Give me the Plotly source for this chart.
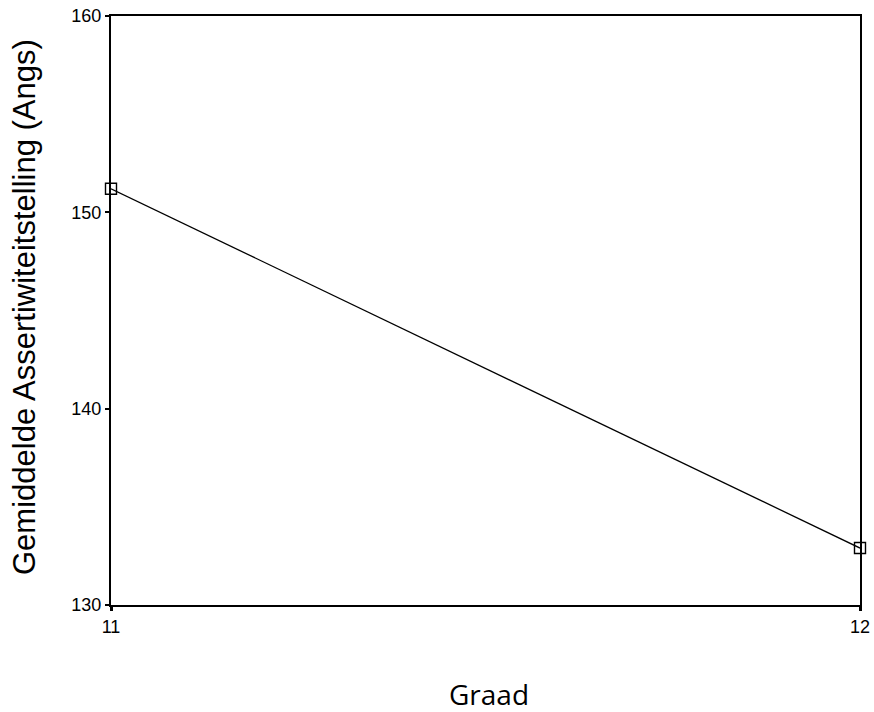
import plotly.graph_objects as go

grades = [11, 12]
mean_scores = [151.2, 132.9]
y_ticks = [130, 140, 150, 160]
x_ticks = [11, 12]

W, H = 874, 712
L, R, T, B = 111, 14, 16, 107
pw, ph = W - L - R, H - T - B

fig = go.Figure()
fig.add_trace(go.Scatter(
    x=grades, y=mean_scores, mode="lines+markers",
    line=dict(color="black", width=1.3),
    marker=dict(symbol="square-open", size=11, color="black", line=dict(width=1.4)),
    cliponaxis=False, showlegend=False, hoverinfo="skip",
))

fig.update_layout(
    width=W, height=H,
    margin=dict(l=L, r=R, t=T, b=B, autoexpand=False),
    paper_bgcolor="white", plot_bgcolor="white",
    font=dict(family="Liberation Sans, Arial", color="black"),
    xaxis=dict(
        range=[11, 12], tickvals=x_ticks, ticktext=[str(v) for v in x_ticks],
        showgrid=False, zeroline=False, automargin=False, ticklabeloverflow="allow",
        showline=True, linecolor="black", linewidth=2, mirror=True,
        ticks="outside", ticklen=4, tickwidth=3, tickcolor="black",
        tickfont=dict(size=18),
    ),
    yaxis=dict(
        range=[130, 160], tickvals=y_ticks,
        showgrid=False, zeroline=False, automargin=False, ticklabeloverflow="allow",
        showline=True, linecolor="black", linewidth=2, mirror=True,
        ticks="outside", ticklen=4, tickwidth=2, tickcolor="black",
        tickfont=dict(size=18),
    ),
    annotations=[
        dict(text="Gemiddelde Assertiwiteitstelling (Angs)", textangle=-90,
             xref="paper", yref="paper", x=(24 - L) / pw, y=(T + ph - 307) / ph,
             xanchor="center", yanchor="middle", showarrow=False,
             font=dict(size=31, family="Liberation Sans, Arial")),
        dict(text="Graad",
             xref="paper", yref="paper", x=(489 - L) / pw, y=-(694 - T - ph) / ph,
             xanchor="center", yanchor="middle", showarrow=False,
             font=dict(size=28, family="Open Sans, DejaVu Sans")),
    ],
)

fig.write_html(
    "out.html",
    config={"displayModeBar": False, "staticPlot": True},
    post_script="document.body.style.margin='0';document.body.style.overflow='hidden';",
)
